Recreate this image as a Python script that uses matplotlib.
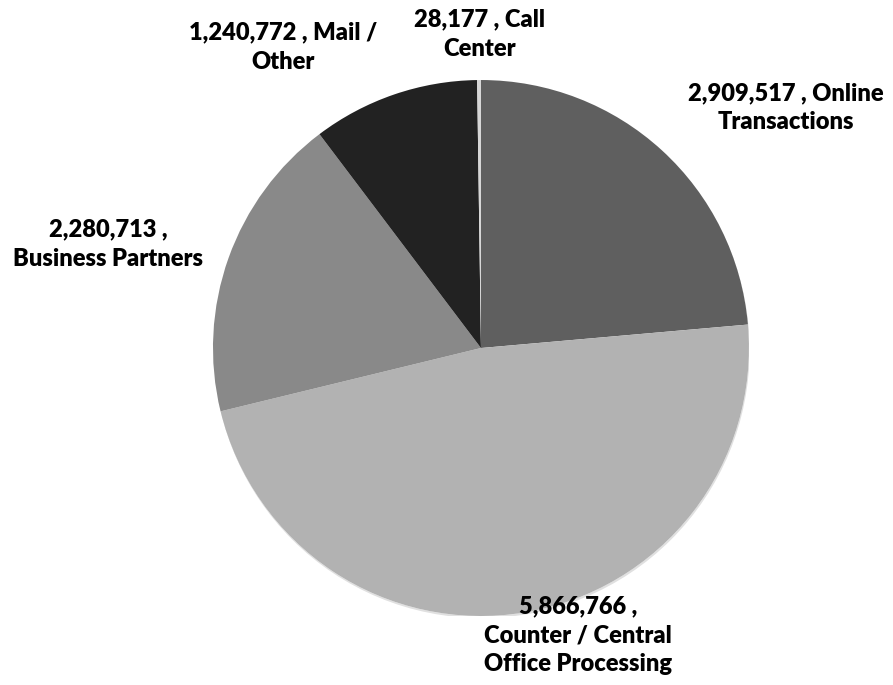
"""Pie chart of transactions by channel."""

import matplotlib
matplotlib.use('Agg')
import matplotlib.pyplot as plt
from matplotlib import patheffects

label_text = ['2,909,517 , Online\nTransactions',
              '5,866,766 ,\nCounter / Central\nOffice Processing',
              '2,280,713 ,\nBusiness Partners',
              '1,240,772 , Mail /\nOther',
              '28,177 , Call\nCenter']
counts = [2909517, 5866766, 2280713, 1240772, 28177]
colors = ['#5f5f5f', '#b2b2b2', '#898989', '#222222', '#d6d6d6']

# label centres, in pie radii (layout only)
label_pos = [(1.138, 0.896), (0.362, -1.071), (-1.392, 0.388),
             (-0.739, 1.123), (-0.007, 1.172)]

plt.rcParams['font.family'] = ['Lato', 'DejaVu Sans']

fig = plt.figure(figsize=(8.93, 6.85), dpi=100)
ax = fig.add_axes([0.2385, 0.1007, 0.6002, 0.7825])

shadow = plt.Circle((0, 0), 1.0, facecolor='white', edgecolor='none', zorder=0,
                    path_effects=[patheffects.SimplePatchShadow(
                        offset=(0.5, -1.5), shadow_rgbFace='#000000', alpha=0.12),
                        patheffects.Normal()])
ax.add_patch(shadow)

wedges, _ = ax.pie(counts, colors=colors, startangle=90, counterclock=False,
                   radius=1.0, wedgeprops=dict(linewidth=0))
for w in wedges:
    w.set_zorder(2)

for txt, (x, y) in zip(label_text, label_pos):
    ax.text(x, y, txt, ha='center', va='center', fontsize=17,
            fontweight='heavy', color='#000000', linespacing=1.4,
            clip_on=False)

ax.set_xlim(-1, 1)
ax.set_ylim(-1, 1)
ax.set_aspect('equal')
ax.axis('off')

fig.savefig('out.png', dpi=100, facecolor='white')
